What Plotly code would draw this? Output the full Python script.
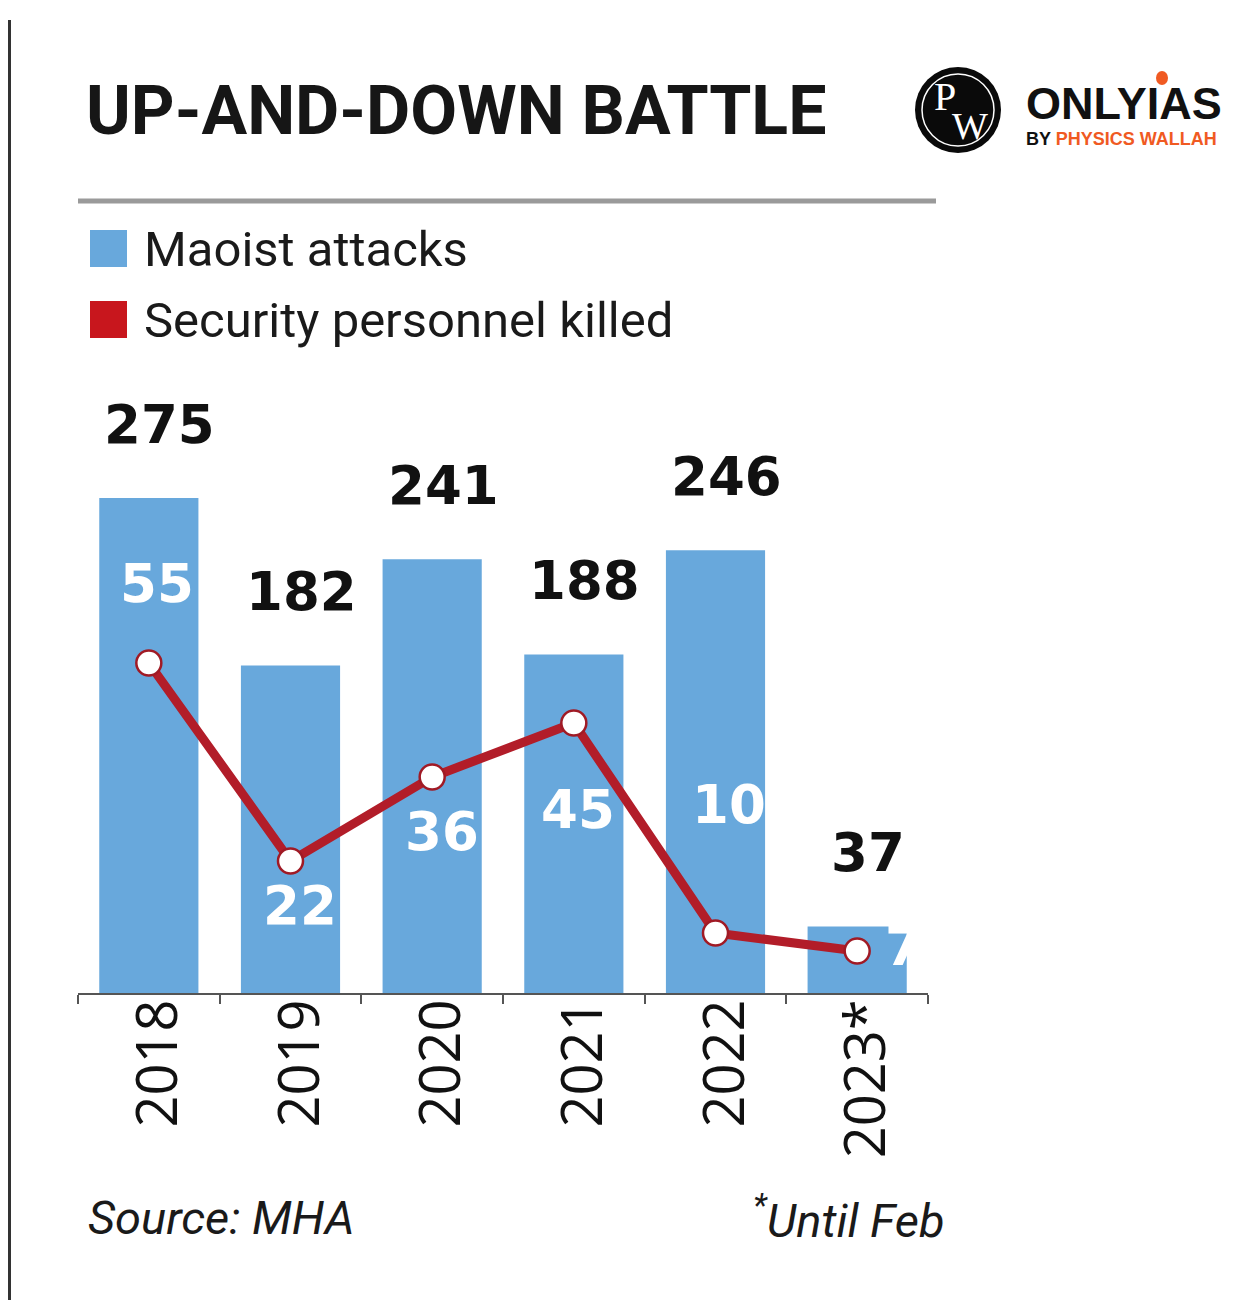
import plotly.graph_objects as go

years = ["2018", "2019", "2020", "2021", "2022", "2023*"]
attacks = [275, 182, 241, 188, 246, 37]
killed = [55, 22, 36, 45, 10, 7]

OFF = 8  # default page body margin
W, H = 1248 - OFF, 1300 - OFF
L, R_EDGE, TOP, BOT = 78 - OFF, 928 - OFF, 380 - OFF, 993 - OFF

def px(x):
    return (x - OFF - L) / (R_EDGE - L)

def py(y):
    return (BOT - (y - OFF)) / (BOT - TOP)

BAR_BLUE = "#68a8dc"
LINE_RED = "#b21d29"
SANS = "Roboto"

fig = go.Figure()
fig.add_trace(go.Bar(
    x=years, y=attacks, marker=dict(color=BAR_BLUE, line=dict(width=0)),
    width=0.70, name="Maoist attacks", showlegend=False, yaxis="y",
))
fig.add_trace(go.Scatter(
    x=years, y=killed, mode="lines+markers", yaxis="y2", name="Security personnel killed",
    line=dict(color=LINE_RED, width=9),
    marker=dict(size=25, color="white", line=dict(color="#a01a25", width=2.5)),
    showlegend=False, cliponaxis=False,
))

annotations = []
# black value labels (attacks)
for i, v in enumerate(attacks):
    annotations.append(dict(
        x=i, y=v, xref="x", yref="y", text=str(v), showarrow=False,
        xshift=11, yshift=74, yanchor="middle",
        font=dict(family="DejaVu Sans", size=53, color="#111111", weight="bold"),
    ))
# white value labels (killed), offsets in pixels from each point
k_offsets = [(8, 80), (9, -44), (10, -54), (4, -86), (13, 129), (46, 5)]
for i, (v, (dx, dy)) in enumerate(zip(killed, k_offsets)):
    annotations.append(dict(
        x=i, y=v, xref="x", yref="y2", text=str(v), showarrow=False,
        xshift=dx, yshift=dy, yanchor="middle",
        font=dict(family="DejaVu Sans", size=53, color="white", weight="bold"),
    ))

def txt(x, y, text, size, xanchor="left", color="#1a1a1a", family=SANS, **fk):
    annotations.append(dict(
        x=px(x), y=py(y), xref="paper", yref="paper", xanchor=xanchor, yanchor="middle",
        text=text, showarrow=False,
        font=dict(family=family, size=size, color=color, **fk),
    ))

# Title
txt(84, 111, "UP-AND-DOWN BATTLE", 68, weight="bold", color="#161616")
# Legend texts
txt(142, 249, "Maoist attacks", 49)
txt(142, 320, "Security personnel killed", 49)
# Footer
txt(86, 1217, "Source: MHA", 47, style="italic")
txt(947, 1217, "<sup>*</sup>Until Feb", 47, xanchor="right", style="italic")
# Logo text
txt(945, 97, "P", 40, xanchor="center", color="white", family="Liberation Serif")
txt(970, 126, "W", 38, xanchor="center", color="white", family="Liberation Serif")
txt(1024, 104, "ONLYIAS", 45, color="#111111", family="Liberation Sans", weight="bold")
txt(1024, 139, "BY <span style='color:#f05a22'>PHYSICS WALLAH</span>", 18, color="#111111",
    family="Liberation Sans", weight="bold")

shapes = [
    # left border line (as far left as the page allows)
    dict(type="line", xref="paper", yref="paper", x0=px(OFF + 1.5), x1=px(OFF + 1.5),
         y0=py(20), y1=py(1300), line=dict(color="#333333", width=3)),
    # rule under title
    dict(type="line", xref="paper", yref="paper", x0=px(78), x1=px(936), y0=py(201), y1=py(201),
         line=dict(color="#9a9a9a", width=5)),
    # legend squares
    dict(type="rect", xref="paper", yref="paper", x0=px(90), x1=px(127), y0=py(230), y1=py(267),
         fillcolor=BAR_BLUE, line=dict(width=0)),
    dict(type="rect", xref="paper", yref="paper", x0=px(90), x1=px(127), y0=py(301), y1=py(338),
         fillcolor="#c8161d", line=dict(width=0)),
    # logo circle
    dict(type="circle", xref="paper", yref="paper", x0=px(915), x1=px(1001), y0=py(67), y1=py(153),
         fillcolor="#0a0a0a", line=dict(width=0)),
    dict(type="circle", xref="paper", yref="paper", x0=px(922), x1=px(994), y0=py(74), y1=py(146),
         fillcolor="rgba(0,0,0,0)", line=dict(color="white", width=1.5)),
    # orange dot of logo
    dict(type="circle", xref="paper", yref="paper", x0=px(1156), x1=px(1168), y0=py(71), y1=py(85),
         fillcolor="#f05a22", line=dict(width=0)),
]

fig.update_layout(
    width=W, height=H,
    margin=dict(l=L, r=W - R_EDGE, t=TOP, b=H - BOT),
    paper_bgcolor="white", plot_bgcolor="white",
    xaxis=dict(
        type="category", range=[-0.5, 5.5], tickangle=-90,
        tickson="boundaries", ticks="outside", ticklen=9, tickwidth=2, tickcolor="#555555",
        showline=True, linecolor="#555555", linewidth=2, showgrid=False, zeroline=False,
        tickfont=dict(family="Open Sans", size=56, color="#111111"),
        ticklabelstandoff=-18, ticklabelshift=10,
    ),
    yaxis=dict(range=[0, (BOT - TOP) / 1.8], visible=False, showgrid=False, zeroline=False),
    yaxis2=dict(range=[0, (BOT - TOP) / 6.0], overlaying="y", visible=False, showgrid=False,
                zeroline=False),
    annotations=annotations,
    shapes=shapes,
    showlegend=False,
)

fig.write_html("out.html")
